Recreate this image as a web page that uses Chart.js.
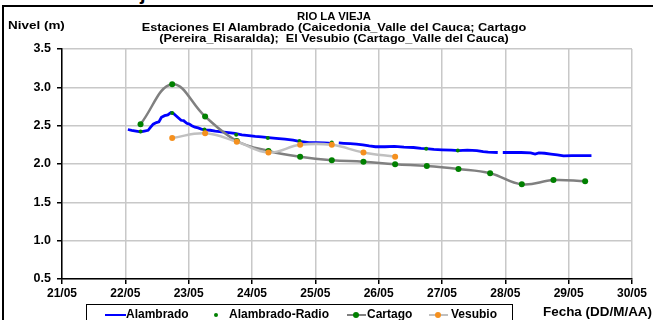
<!DOCTYPE html>
<html>
<head>
<meta charset="utf-8">
<script src="https://cdn.jsdelivr.net/npm/chart.js@4.4.0/dist/chart.umd.min.js"></script>
<style>
  html, body { margin: 0; padding: 0; background: #fff; }
  body { width: 653px; height: 320px; overflow: hidden; position: relative;
         font-family: "Liberation Sans", Arial, sans-serif; font-weight: bold; color: #000; }
  #frame { position: absolute; left: 2px; top: 5px; width: 700px; height: 400px;
           border-left: 2px solid #000; border-top: 2px solid #000; }
  #chart { position: absolute; left: 0; top: 0; }
  .txt { position: absolute; white-space: nowrap; }
  .tit { left: 0; width: 668px; text-align: center; font-size: 11px; transform-origin: 334px 50%; }
  #legend { position: absolute; left: 86px; top: 304px; width: 425px; height: 20px;
            border: 1px solid #000; background: #fff; }
  .ln { position: absolute; height: 2px; top: 9px; }
  .dot { position: absolute; border-radius: 50%; }
</style>
</head>
<body>
<div class="txt" style="left:140px; top:-17px; font-size:20px; line-height:20px;">j</div>
<div id="frame"></div>
<canvas id="chart" width="653" height="320"></canvas>

<div class="txt tit" style="top:10px; transform:scaleX(1.03);">RIO LA VIEJA</div>
<div class="txt tit" style="top:21px; transform:scaleX(1.16);">Estaciones El Alambrado (Caicedonia_Valle del Cauca; Cartago</div>
<div class="txt tit" style="top:32px; transform:scaleX(1.15);">(Pereira_Risaralda);&nbsp; El Vesubio (Cartago_Valle del Cauca)</div>
<div class="txt" style="left:8px; top:19px; font-size:11.5px; transform-origin:0 50%; transform:scaleX(1.17);">Nivel (m)</div>
<div class="txt" style="left:543px; top:305px; font-size:12px; transform-origin:0 50%; transform:scaleX(1.12);">Fecha (DD/M/AA)</div>

<div id="legend">
  <span class="ln" style="left:18px; width:21px; background:#0000ff;"></span>
  <span class="txt" style="left:39px; top:2px; font-size:12px;">Alambrado</span>
  <span class="dot" style="left:127px; top:8px; width:4px; height:4px; background:#008000;"></span>
  <span class="txt" style="left:142px; top:2px; font-size:12px;">Alambrado-Radio</span>
  <span class="ln" style="left:260px; width:19px; background:#808080;"></span>
  <span class="dot" style="left:266px; top:7px; width:6px; height:6px; background:#008000;"></span>
  <span class="txt" style="left:280px; top:2px; font-size:12px;">Cartago</span>
  <span class="ln" style="left:342px; width:19px; background:#c0c0c0;"></span>
  <span class="dot" style="left:348px; top:7px; width:6px; height:6px; background:#f5901e;"></span>
  <span class="txt" style="left:364px; top:2px; font-size:12px;">Vesubio</span>
</div>

<script>
// fechas en dias de mayo (decimal), niveles en metros
var alambradoDias = [22.04, 22.10, 22.17, 22.24, 22.30, 22.36, 22.40, 22.44, 22.49, 22.53,
  22.57, 22.62, 22.67, 22.72, 22.76, 22.80, 22.84, 22.88, 22.92, 22.97,
  23.01, 23.05, 23.10, 23.15, 23.20, 23.26, 23.34, 23.42, 23.52, 23.63,
  23.73, 23.84, 23.95, 24.05, 24.15, 24.26, 24.38, 24.52, 24.65, 24.78,
  24.90, 25.02, 25.14, 25.28, 25.32, 25.37, 25.45, 25.55, 25.65, 25.75,
  25.85, 25.95, 26.10, 26.25, 26.40, 26.55, 26.67, 26.75, 26.87, 27.00,
  27.15, 27.26, 27.40, 27.55, 27.65, 27.73, 27.88, 27.92, 27.96, 28.10,
  28.25, 28.40, 28.47, 28.53, 28.62, 28.72, 28.82, 28.92, 29.05, 29.20, 29.36];
var alambradoNivel = [2.45, 2.44, 2.43, 2.42, 2.43, 2.44, 2.48, 2.52, 2.54, 2.55,
  2.61, 2.63, 2.64, 2.67, 2.66, 2.63, 2.60, 2.57, 2.565, 2.53,
  2.52, 2.50, 2.48, 2.47, 2.455, 2.445, 2.44, 2.43, 2.42, 2.41,
  2.40, 2.38, 2.37, 2.36, 2.355, 2.345, 2.335, 2.325, 2.31, 2.29,
  2.28, 2.28, 2.275, 2.27, null, 2.275, 2.27, 2.265, 2.26, 2.25,
  2.235, 2.225, 2.225, 2.23, 2.22, 2.215, 2.205, 2.20, 2.19, 2.185,
  2.18, 2.175, 2.18, 2.175, 2.16, 2.155, 2.15, null, 2.15, 2.15,
  2.15, 2.145, 2.13, 2.145, 2.14, 2.13, 2.12, 2.105, 2.11, 2.11, 2.11];

var radioDias = [22.24, 22.74, 23.25, 23.75, 24.25, 24.75, 25.26, 26.75, 27.25];
var radioNivel = [2.425, 2.665, 2.45, 2.38, 2.34, 2.30, 2.28, 2.20, 2.175];

var cartagoDias = [22.24, 22.74, 23.26, 23.76, 24.26, 24.76, 25.26, 25.76, 26.26, 26.76, 27.26, 27.76, 28.26, 28.76, 29.26];
var cartagoNivel = [2.52, 3.04, 2.62, 2.30, 2.17, 2.095, 2.05, 2.03, 1.996, 1.975, 1.935, 1.88, 1.735, 1.79, 1.775];

var vesubioDias = [22.74, 23.26, 23.76, 24.26, 24.76, 25.26, 25.76, 26.26];
var vesubioNivel = [2.34, 2.40, 2.29, 2.15, 2.25, 2.25, 2.15, 2.095];

var mes = '05';
var fuente = { family: 'Liberation Sans', size: 12, weight: 'bold' };
var fuenteY = { family: 'Liberation Sans', size: 12.5, weight: 'bold' };

function pares(xs, ys) {
  return xs.map(function (x, i) { return { x: x, y: ys[i] }; });
}

var ctx = document.getElementById('chart').getContext('2d');
var chart = new Chart(ctx, {
  type: 'line',
  data: {
    datasets: [
      {
        label: 'Alambrado',
        data: pares(alambradoDias, alambradoNivel),
        borderColor: '#0000ff',
        borderWidth: 2.8,
        pointRadius: 0,
        tension: 0,
        spanGaps: false,
        order: 4
      },
      {
        label: 'Alambrado-Radio',
        data: pares(radioDias, radioNivel),
        showLine: false,
        pointRadius: 2,
        pointBackgroundColor: '#008000',
        pointBorderWidth: 0,
        order: 3
      },
      {
        label: 'Cartago',
        data: pares(cartagoDias, cartagoNivel),
        borderColor: '#808080',
        borderWidth: 2.5,
        tension: 0.4,
        pointRadius: 3,
        pointBackgroundColor: '#008000',
        pointBorderWidth: 0,
        order: 2
      },
      {
        label: 'Vesubio',
        data: pares(vesubioDias, vesubioNivel),
        borderColor: '#c0c0c0',
        borderWidth: 2.5,
        tension: 0.4,
        pointRadius: 3,
        pointBackgroundColor: '#f5901e',
        pointBorderWidth: 0,
        order: 1
      }
    ]
  },
  options: {
    responsive: false,
    animation: false,
    events: [],
    layout: { padding: { left: 0, top: 49, right: 21, bottom: 0 } },
    plugins: {
      legend: { display: false },
      title: { display: false },
      tooltip: { enabled: false }
    },
    scales: {
      x: {
        type: 'linear',
        min: 21,
        max: 30,
        ticks: {
          stepSize: 1,
          autoSkip: false,
          maxRotation: 0,
          padding: 2,
          color: '#000',
          font: fuente,
          callback: function (v) { return v + '/' + mes; }
        },
        grid: { color: '#c8c8c8', lineWidth: 1.5, tickColor: '#000', tickLength: 5 },
        border: { color: '#000', width: 1.5 },
        afterFit: function (s) { s.height = 41; }
      },
      y: {
        min: 0.5,
        max: 3.5,
        ticks: {
          stepSize: 0.5,
          padding: 6,
          color: '#000',
          font: fuenteY,
          callback: function (v) { return v.toFixed(1); }
        },
        grid: { color: '#c8c8c8', lineWidth: 1.5, tickColor: '#000', tickLength: 5 },
        border: { color: '#000', width: 1.5 },
        afterFit: function (s) { s.width = 62; }
      }
    }
  }
});
</script>
</body>
</html>
